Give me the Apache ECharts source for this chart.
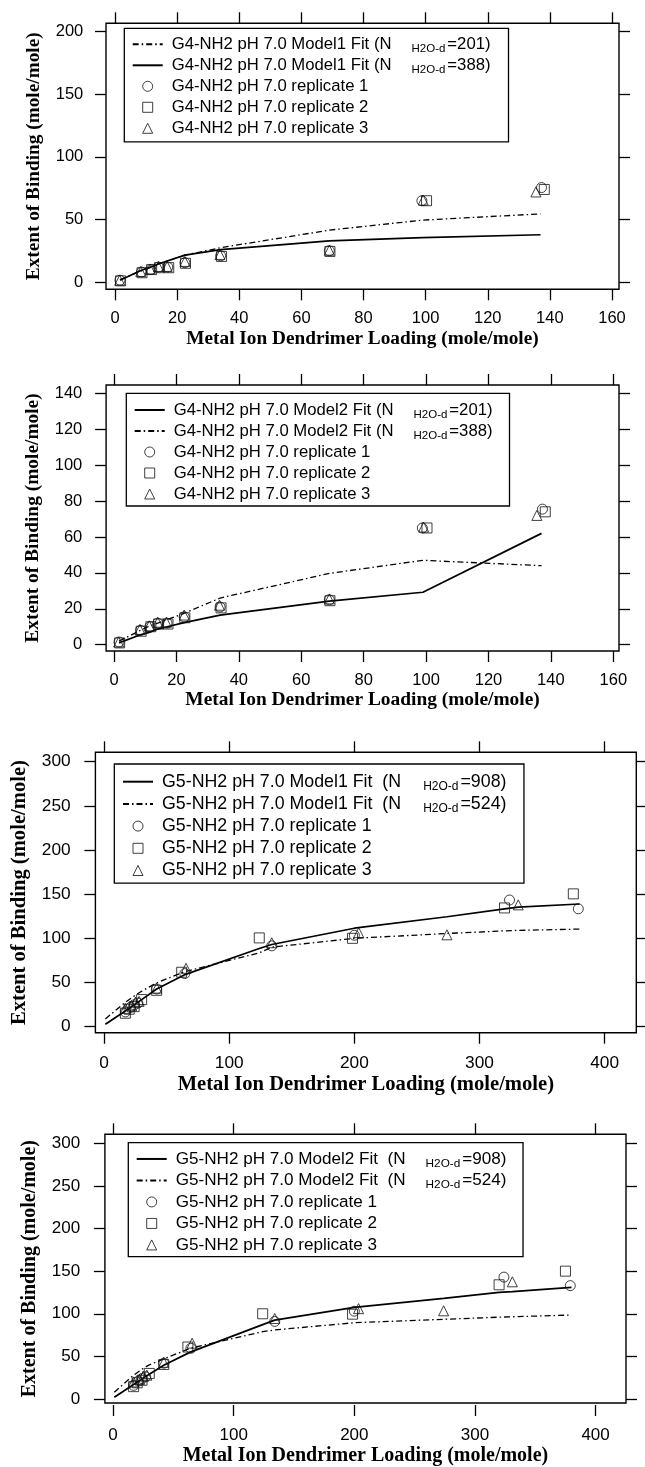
<!DOCTYPE html>
<html>
<head>
<meta charset="utf-8">
<script src="https://cdn.jsdelivr.net/npm/echarts@6/dist/echarts.min.js"></script>
<style>
  html, body { margin: 0; padding: 0; background: #fff; }
  #chart { width: 645px; height: 1467px; }
</style>
</head>
<body>
<div id="chart"></div>
<script>
// ---------- G4-NH2, pH 7.0: measured replicates [loading, extent of binding] ----------
const g4Rep1 = [[1.6, 1.5], [8.5, 8], [11.5, 10], [14, 12], [17, 12], [22.5, 15.5], [34, 21], [69, 25], [98.8, 65], [137.3, 75.5]];
const g4Rep2 = [[1.8, 1], [8.7, 7.5], [11.8, 10], [14.3, 11.5], [17.3, 11.5], [22.7, 15], [34.3, 20.5], [69.2, 24.5], [100.3, 65], [138.2, 74]];
const g4Rep3 = [[1.5, 1.5], [8.3, 8.5], [11.3, 10.5], [14, 12.5], [16.8, 12.5], [22.5, 16.5], [33.8, 22], [69, 25.5], [99.2, 65.5], [135.5, 72]];

// G4 model fits, evaluated at the loading levels
const g4FitLoading = [1.6, 8.5, 11.5, 14, 17, 22.5, 34, 69, 99, 137];
const g4Model1N201 = [2, 9, 12, 14.5, 17, 21.5, 27.5, 41.5, 49.5, 54.5];
const g4Model1N388 = [1.5, 9.5, 12, 14.5, 17, 21.5, 26, 33, 35.5, 37.8];
const g4Model2N201 = [1, 5.5, 7, 8.7, 10, 12.3, 16.5, 24.3, 29.2, 62];
const g4Model2N388 = [2, 8, 10.5, 12, 14, 17.5, 26, 39.7, 47, 44];

// ---------- G5-NH2, pH 7.0: measured replicates ----------
const g5Rep1 = [[17, 16], [21, 21], [24, 24], [27, 26], [42, 42], [64.5, 59.5], [134, 91], [200, 103], [324, 143], [379, 133]];
const g5Rep2 = [[17, 14.5], [20, 19], [24, 22], [30, 30], [42, 40.5], [62, 61], [124, 100], [198.5, 99.5], [320, 134], [375, 150]];
const g5Rep3 = [[17, 20], [22, 23], [25, 27], [28, 28], [42, 43], [65.5, 65.5], [134, 94.5], [203.5, 106], [274, 103.5], [331, 137.5]];

// G5 model fits
const g5FitLoading = [1, 17, 22, 25, 30, 42, 64, 124, 134, 200, 274, 320, 331, 380];
const g5Model1N908 = [2, 17, 22, 25, 30, 42, 58, 88, 92.5, 111, 124, 133, 135, 138.5];
const g5Model1N524 = [8, 27, 32, 35, 39.5, 49, 61.5, 83, 89.5, 99.5, 105, 108, 108.5, 110];
const g5Model2N908 = [2, 17, 21.5, 24.5, 29, 39.5, 55, 87.3, 92.5, 107.5, 118, 125, 126, 131];
const g5Model2N524 = [8, 28, 33, 36, 40, 47, 59.5, 79, 81, 89.5, 93.5, 96, 96.5, 98.5];

// ---------- tick values ----------
const g4LoadingTicks = [0, 20, 40, 60, 80, 100, 120, 140, 160];
const g4BindingTicksA = [0, 50, 100, 150, 200];
const g4BindingTicksB = [0, 20, 40, 60, 80, 100, 120, 140];
const g5LoadingTicks = [0, 100, 200, 300, 400];
const g5BindingTicks = [0, 50, 100, 150, 200, 250, 300];

// ---------- legend labels (text inside _{...} is set as a subscript) ----------
const g4Names = ['G4-NH2 pH 7.0 replicate 1', 'G4-NH2 pH 7.0 replicate 2', 'G4-NH2 pH 7.0 replicate 3'];
const g5Names = ['G5-NH2 pH 7.0 replicate 1', 'G5-NH2 pH 7.0 replicate 2', 'G5-NH2 pH 7.0 replicate 3'];

const X_TITLE = 'Metal Ion Dendrimer Loading (mole/mole)';
const Y_TITLE = 'Extent of Binding (mole/mole)';
const SANS = '"Liberation Sans", Arial, Helvetica, sans-serif';
const SERIF = '"Liberation Serif", "Times New Roman", serif';
const DASH_DOT = [6, 3, 1.5, 3];
const INK = '#111';
const CLEAR = 'rgba(0,0,0,0)';

// marker shapes: plot symbols and the matching square-aspect legend icons
const REP_SYMBOLS = ['circle', 'rect', 'triangle'];
const REP_ICONS = ['circle', 'path://M0,0H10V10H0Z', 'path://M5,0L10,10H0Z'];

const zip = (xs, ys) => xs.map((x, i) => [x, ys[i]]);

// Panel geometry: frame box [l, t, r, b] and plotting area [l, t, r, b] in px
const panels = [
  {
    box: [106, 23.3, 619, 289.3], plot: [115, 31.7, 612, 282.1],
    legendAt: [124.3, 28.3], legendPad: [5.5, 18, 3, 7.4], pitch: 21,
    fs: { tick: 16.5, legend: 16.7, sub: 11.5, title: 19.3 }, subGap: 20,
    gapX: 40, gapY: 62.5, marginX: 21, marginY: 22.7,
    xTicks: g4LoadingTicks, yTicks: g4BindingTicksA,
    fits: [
      { name: 'G4-NH2 pH 7.0 Model1 Fit (N_{H2O-d}=201)', x: g4FitLoading, y: g4Model1N201, dash: true },
      { name: 'G4-NH2 pH 7.0 Model1 Fit (N_{H2O-d}=388)', x: g4FitLoading, y: g4Model1N388, dash: false }
    ],
    reps: [g4Rep1, g4Rep2, g4Rep3], repNames: g4Names
  },
  {
    box: [106.1, 385, 619, 651], plot: [114, 393.3, 613.3, 644.7],
    legendAt: [126.3, 393.3], legendPad: [6.2, 17, 1.5, 7.4], pitch: 21,
    fs: { tick: 16.5, legend: 16.7, sub: 11.5, title: 19.4 }, subGap: 20,
    gapX: 39, gapY: 63.5, marginX: 21.5, marginY: 23.8,
    xTicks: g4LoadingTicks, yTicks: g4BindingTicksB,
    fits: [
      { name: 'G4-NH2 pH 7.0 Model2 Fit (N_{H2O-d}=201)', x: g4FitLoading, y: g4Model2N201, dash: false },
      { name: 'G4-NH2 pH 7.0 Model2 Fit (N_{H2O-d}=388)', x: g4FitLoading, y: g4Model2N388, dash: true }
    ],
    reps: [g4Rep1, g4Rep2, g4Rep3], repNames: g4Names
  },
  {
    box: [95.4, 752.3, 636.3, 1032.7], plot: [104.1, 761.7, 604.6, 1026],
    legendAt: [114.3, 764], legendPad: [6.6, 17.5, 1.5, 7.7], pitch: 22.2,
    fs: { tick: 17.3, legend: 17.8, sub: 12, title: 20.6 }, subGap: 22,
    gapX: 42, gapY: 65.5, marginX: 22, marginY: 24.7,
    xTicks: g5LoadingTicks, yTicks: g5BindingTicks,
    fits: [
      { name: 'G5-NH2 pH 7.0 Model1 Fit  (N_{H2O-d}=908)', x: g5FitLoading, y: g5Model1N908, dash: false },
      { name: 'G5-NH2 pH 7.0 Model1 Fit  (N_{H2O-d}=524)', x: g5FitLoading, y: g5Model1N524, dash: true }
    ],
    reps: [g5Rep1, g5Rep2, g5Rep3], repNames: g5Names
  },
  {
    box: [104.9, 1134.3, 626, 1405], plot: [113.1, 1143.3, 595.6, 1399],
    legendAt: [128.3, 1142.7], legendPad: [5.5, 16.5, 1, 7.4], pitch: 21.5,
    fs: { tick: 17, legend: 17.1, sub: 11.8, title: 20 }, subGap: 20,
    gapX: 43, gapY: 65, marginX: 21.5, marginY: 24.7,
    xTicks: g5LoadingTicks, yTicks: g5BindingTicks,
    fits: [
      { name: 'G5-NH2 pH 7.0 Model2 Fit  (N_{H2O-d}=908)', x: g5FitLoading, y: g5Model2N908, dash: false },
      { name: 'G5-NH2 pH 7.0 Model2 Fit  (N_{H2O-d}=524)', x: g5FitLoading, y: g5Model2N524, dash: true }
    ],
    reps: [g5Rep1, g5Rep2, g5Rep3], repNames: g5Names
  }
];

const option = {
  backgroundColor: '#fff',
  animation: false,
  grid: [], xAxis: [], yAxis: [], series: [], legend: []
};

function tickAxisBase(ticks) {
  return {
    type: 'value',
    min: ticks[0],
    max: ticks[ticks.length - 1],
    interval: ticks[1] - ticks[0],
    splitLine: { show: false },
    axisLine: { show: false, onZero: false }
  };
}

function richLabel(name) {
  const m = name.match(/^(.*)_\{(.+?)\}(.*)$/);
  if (!m) return '{a|' + name + '}';
  return '{a|' + m[1] + '}{s|' + m[2] + '}{b|' + m[3] + '}';
}

panels.forEach((p, i) => {
  const [bl, bt, br, bb] = p.box;
  const [pl, pt, pr, pb] = p.plot;
  const gPlot = 2 * i, gFrame = 2 * i + 1;
  const ax0 = option.xAxis.length, ay0 = option.yAxis.length;

  // plotting area (data coordinates)
  option.grid.push({ left: pl, top: pt, width: pr - pl, height: pb - pt, containLabel: false });
  // frame around the panel
  option.grid.push({ left: bl, top: bt, width: br - bl, height: bb - bt, show: true,
    borderColor: '#000', borderWidth: 1.4, backgroundColor: CLEAR, containLabel: false });

  const tickStyle = { show: true, inside: false, length: 11, lineStyle: { color: '#000', width: 1.3 } };
  const labelStyle = (margin) => ({ show: true, color: '#000', fontFamily: SANS, fontSize: p.fs.tick,
    lineHeight: p.fs.tick, margin: margin });

  // bottom / top axes of the plotting area, shifted out to the frame
  option.xAxis.push(Object.assign(tickAxisBase(p.xTicks), {
    gridIndex: gPlot, position: 'bottom', offset: bb - pb,
    axisTick: tickStyle, axisLabel: labelStyle(p.marginX)
  }));
  option.xAxis.push(Object.assign(tickAxisBase(p.xTicks), {
    gridIndex: gPlot, position: 'top', offset: pt - bt,
    axisTick: tickStyle, axisLabel: { show: false }
  }));
  // left / right axes
  option.yAxis.push(Object.assign(tickAxisBase(p.yTicks), {
    gridIndex: gPlot, position: 'left', offset: pl - bl,
    axisTick: tickStyle, axisLabel: labelStyle(p.marginY)
  }));
  option.yAxis.push(Object.assign(tickAxisBase(p.yTicks), {
    gridIndex: gPlot, position: 'right', offset: br - pr,
    axisTick: tickStyle, axisLabel: { show: false }
  }));

  // frame axes carry the axis titles, centred on the frame
  const titleStyle = { color: '#000', fontFamily: SERIF, fontWeight: 'bold', fontSize: p.fs.title, lineHeight: p.fs.title };
  option.xAxis.push({ type: 'value', gridIndex: gFrame, min: 0, max: 1, position: 'bottom',
    axisLine: { show: false, onZero: false }, axisTick: { show: false }, axisLabel: { show: false }, splitLine: { show: false },
    name: X_TITLE, nameLocation: 'middle', nameGap: p.gapX, nameTextStyle: titleStyle });
  option.yAxis.push({ type: 'value', gridIndex: gFrame, min: 0, max: 1, position: 'left',
    axisLine: { show: false, onZero: false }, axisTick: { show: false }, axisLabel: { show: false }, splitLine: { show: false },
    name: Y_TITLE, nameLocation: 'middle', nameRotate: 90, nameGap: p.gapY, nameTextStyle: titleStyle });

  // fitted curves (no point symbols; the legend keeps only the stroke)
  p.fits.forEach(f => {
    option.series.push({
      type: 'line', name: f.name, xAxisIndex: ax0, yAxisIndex: ay0,
      data: zip(f.x, f.y), symbol: 'none', smooth: false, z: 3,
      lineStyle: { color: '#000', width: f.dash ? 1.3 : 1.7, type: f.dash ? DASH_DOT : 'solid' },
      itemStyle: { color: CLEAR, borderColor: CLEAR, borderWidth: 0 }
    });
  });
  // replicate measurements
  p.reps.forEach((rep, k) => {
    option.series.push({
      type: 'scatter', name: p.repNames[k], xAxisIndex: ax0, yAxisIndex: ay0,
      data: rep, symbol: REP_SYMBOLS[k], symbolSize: 10, z: 4,
      itemStyle: { color: CLEAR, borderColor: INK, borderWidth: 1 }
    });
  });

  const tok = { color: '#000', fontFamily: SANS, fontSize: p.fs.legend, lineHeight: p.pitch };
  option.legend.push({
    orient: 'vertical', left: p.legendAt[0], top: p.legendAt[1],
    padding: p.legendPad, itemWidth: 30, itemHeight: 10, itemGap: 0,
    symbolKeepAspect: true,
    borderColor: '#000', borderWidth: 1.3, backgroundColor: '#fff',
    selectedMode: false,
    data: p.fits.map(f => ({ name: f.name, itemStyle: { color: CLEAR, borderColor: CLEAR, borderWidth: 0 } }))
      .concat(p.repNames.map((n, k) => ({ name: n, icon: REP_ICONS[k],
        itemStyle: { color: CLEAR, borderColor: INK, borderWidth: 1 } }))),
    formatter: richLabel,
    textStyle: {
      color: '#000', fontFamily: SANS, fontSize: p.fs.legend, lineHeight: p.pitch,
      rich: {
        a: Object.assign({}, tok, { padding: [0, 0, 0, 4] }),
        s: { color: '#000', fontFamily: SANS, fontSize: p.fs.sub, lineHeight: p.fs.sub,
             verticalAlign: 'bottom', padding: [0, 2, 0, p.subGap] },
        b: Object.assign({}, tok)
      }
    }
  });
});

const chart = echarts.init(document.getElementById('chart'), null, { renderer: 'canvas', width: 645, height: 1467 });
chart.setOption(option);
</script>
</body>
</html>
